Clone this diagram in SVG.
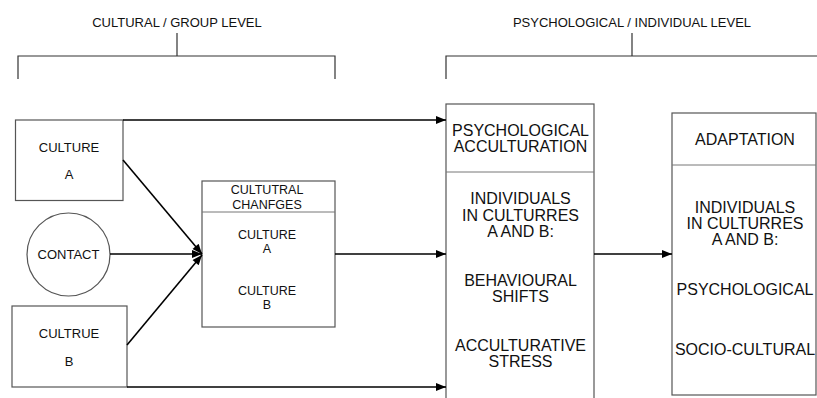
<svg xmlns="http://www.w3.org/2000/svg" width="817" height="398" viewBox="0 0 817 398">
<defs>
<style>
text{font-family:"Liberation Sans",Arial,sans-serif;fill:#111;text-anchor:middle}
.box{fill:#fff;stroke:#555;stroke-width:1.2}
.div{stroke:#777;stroke-width:1}
.br{fill:none;stroke:#333;stroke-width:1.2}
.con{fill:none;stroke:#000;stroke-width:1.6}
.f13{font-size:13px}
.f12{font-size:12.5px}
.f16{font-size:16px}
</style>
<marker id="ah" viewBox="0 0 10 8" refX="10" refY="4" markerWidth="11" markerHeight="8" markerUnits="userSpaceOnUse" orient="auto">
<path d="M0,0 L10,4 L0,8 z" fill="#000"/>
</marker>
</defs>

<g id="bracket-cultural">
<text class="f13" x="177" y="27">CULTURAL / GROUP LEVEL</text>
<path class="br" d="M177,33 V56 M18,79 V56 H335 V79"/>
</g>
<g id="bracket-psychological">
<text class="f13" x="632" y="27">PSYCHOLOGICAL / INDIVIDUAL LEVEL</text>
<path class="br" d="M632,33 V56 M446,79 V56 H817"/>
</g>

<g id="culture-a">
<rect class="box" x="15.5" y="120" width="107.5" height="80.5"/>
<text class="f13" x="69" y="152">CULTURE</text>
<text class="f13" x="69" y="179">A</text>
</g>

<g id="contact">
<circle class="box" cx="68.5" cy="254.5" r="41.5"/>
<text class="f13" x="68.5" y="259">CONTACT</text>
</g>

<g id="culture-b">
<rect class="box" x="12" y="306" width="115" height="81"/>
<text class="f13" x="69" y="338">CULTRUE</text>
<text class="f13" x="69" y="366">B</text>
</g>

<g id="cultural-changes">
<rect class="box" x="202" y="181" width="133" height="146"/>
<line class="div" x1="202" y1="212" x2="335" y2="212"/>
<text class="f12" x="267" y="194">CULTUTRAL</text>
<text class="f12" x="267" y="209">CHANFGES</text>
<text class="f12" x="267" y="239">CULTURE</text>
<text class="f12" x="267" y="253">A</text>
<text class="f12" x="267" y="295">CULTURE</text>
<text class="f12" x="267" y="309">B</text>
</g>

<g id="psychological-acculturation">
<rect class="box" x="446" y="104" width="148" height="300"/>
<line class="div" x1="446" y1="172" x2="594" y2="172"/>
<text class="f16" x="520.5" y="136">PSYCHOLOGICAL</text>
<text class="f16" x="520.5" y="152">ACCULTURATION</text>
<text class="f16" x="520.5" y="204">INDIVIDUALS</text>
<text class="f16" x="520.5" y="221">IN CULTURRES</text>
<text class="f16" x="520.5" y="237">A AND B:</text>
<text class="f16" x="520.5" y="286">BEHAVIOURAL</text>
<text class="f16" x="520.5" y="302">SHIFTS</text>
<text class="f16" x="520.5" y="351">ACCULTURATIVE</text>
<text class="f16" x="520.5" y="367">STRESS</text>
</g>

<g id="adaptation">
<rect class="box" x="672" y="113" width="144" height="282"/>
<line class="div" x1="672" y1="165" x2="816" y2="165"/>
<text class="f16" x="745" y="145">ADAPTATION</text>
<text class="f16" x="745" y="213">INDIVIDUALS</text>
<text class="f16" x="745" y="229">IN CULTURRES</text>
<text class="f16" x="745" y="245">A AND B:</text>
<text class="f16" x="745" y="295">PSYCHOLOGICAL</text>
<text class="f16" x="745" y="355">SOCIO-CULTURAL</text>
</g>

<g id="connectors">
<path class="con" d="M123,120 H446" marker-end="url(#ah)"/>
<path class="con" d="M127,387 H446" marker-end="url(#ah)"/>
<path class="con" d="M123,160 L202,254" marker-end="url(#ah)"/>
<path class="con" d="M110,254 H202" marker-end="url(#ah)"/>
<path class="con" d="M127,345 L202,255" marker-end="url(#ah)"/>
<path class="con" d="M335,254 H446" marker-end="url(#ah)"/>
<path class="con" d="M594,254 H672" marker-end="url(#ah)"/>
</g>
</svg>
